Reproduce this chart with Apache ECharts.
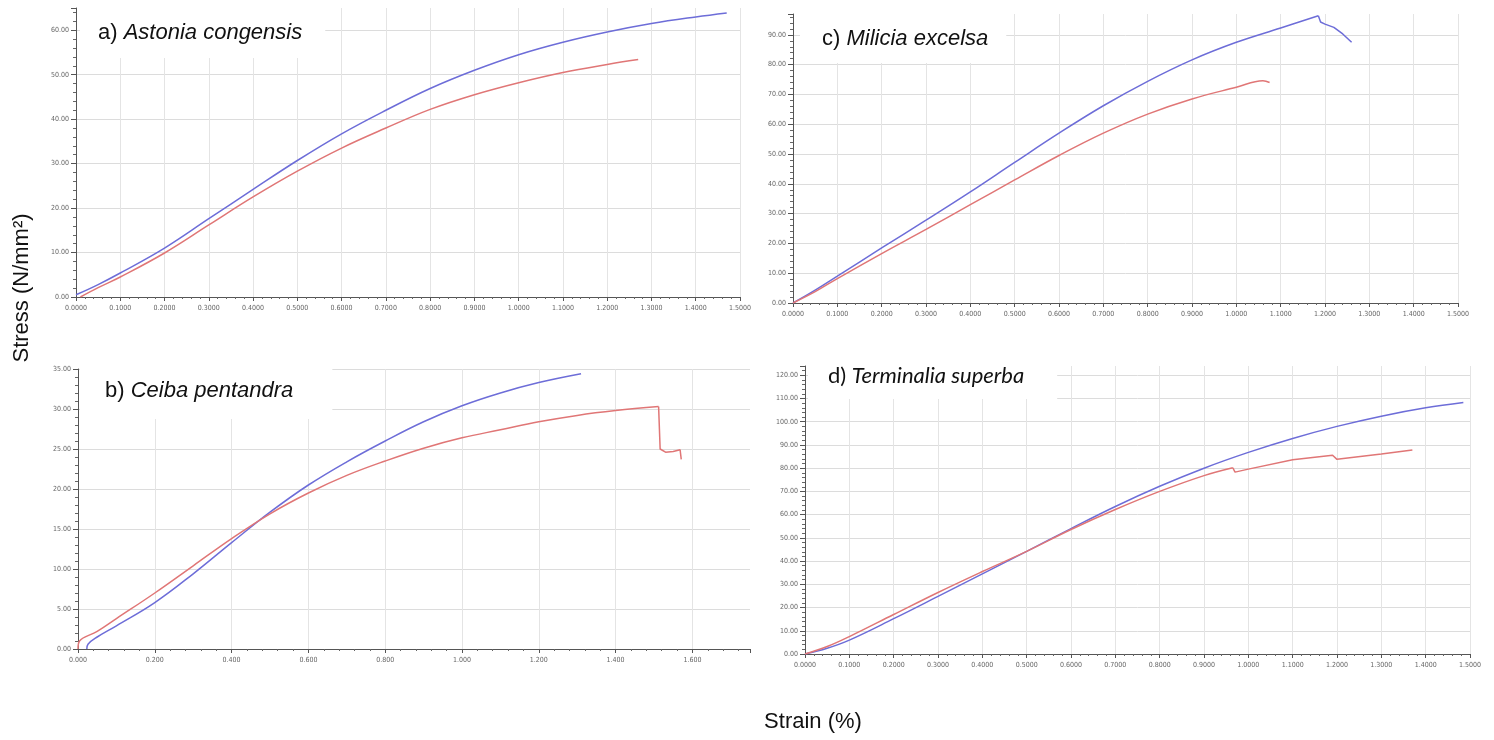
<!DOCTYPE html>
<html>
<head>
<meta charset="utf-8">
<title>Stress-strain curves</title>
<script src="https://cdn.jsdelivr.net/npm/echarts@6/dist/echarts.min.js"></script>
<style>
  html, body { margin: 0; padding: 0; background: #fff; }
  #main { width: 1494px; height: 740px; }
</style>
</head>
<body>
<div id="main"></div>
<script>
// [strain %, stress N/mm2]
// a) Astonia congensis
var aBlue = [[0,0.5],[0.05,2.8],[0.1,5.4],[0.2,11.0],[0.3,17.6],[0.4,24.2],[0.5,30.7],[0.6,36.7],[0.7,42.0],[0.8,46.9],[0.9,51.0],[1.0,54.5],[1.1,57.3],[1.2,59.6],[1.3,61.5],[1.4,63.0],[1.47,63.9]];
var aRed = [[0.01,0],[0.05,2.1],[0.1,4.5],[0.2,9.9],[0.3,16.2],[0.4,22.5],[0.5,28.3],[0.6,33.5],[0.7,38.0],[0.8,42.2],[0.9,45.5],[1.0,48.2],[1.1,50.5],[1.2,52.3],[1.27,53.4]];

// b) Ceiba pentandra
var bBlue = [[0.023,0],[0.026,0.6],[0.05,1.5],[0.1,2.9],[0.2,5.8],[0.3,9.4],[0.4,13.3],[0.5,17.1],[0.6,20.5],[0.7,23.4],[0.8,26.0],[0.9,28.4],[1.0,30.4],[1.1,32.0],[1.2,33.3],[1.31,34.4]];
var bRed = [[0,0],[0.004,1.0],[0.05,2.2],[0.1,3.8],[0.2,7.0],[0.3,10.4],[0.4,13.8],[0.5,16.9],[0.6,19.5],[0.7,21.7],[0.8,23.5],[0.9,25.1],[1.0,26.4],[1.1,27.4],[1.2,28.4],[1.3,29.2],[1.4,29.8],[1.512,30.3]];
var bRedTail = [[1.512,30.3],[1.516,25.0],[1.53,24.6],[1.55,24.7],[1.568,24.9],[1.571,23.7]];

// c) Milicia excelsa
var cBlue = [[0,0],[0.05,4.3],[0.1,9.0],[0.2,18.5],[0.3,27.8],[0.4,37.3],[0.5,47.2],[0.6,57.0],[0.7,66.2],[0.8,74.4],[0.9,81.6],[1.0,87.5],[1.1,92.3],[1.185,96.4]];
var cBlueTail = [[1.185,96.4],[1.19,94.3],[1.2,93.6],[1.22,92.5],[1.24,90.3],[1.26,87.5]];
var cRed = [[0,0],[0.05,3.8],[0.1,8.2],[0.2,16.6],[0.3,24.7],[0.4,33.0],[0.5,41.3],[0.6,49.5],[0.7,57.0],[0.8,63.4],[0.9,68.5],[1.0,72.4],[1.06,74.6],[1.075,74.0]];

// d) Terminalia superba
var dBlue = [[0,0],[0.05,2.5],[0.1,6.0],[0.2,15.2],[0.3,24.8],[0.4,34.5],[0.5,44.2],[0.6,54.0],[0.7,63.5],[0.8,72.2],[0.9,80.0],[1.0,86.8],[1.1,92.8],[1.2,98.0],[1.3,102.4],[1.4,106.0],[1.485,108.3]];
var dRed = [[0,0],[0.05,3.2],[0.1,7.5],[0.2,17.0],[0.3,26.5],[0.4,35.5],[0.5,44.2],[0.6,53.6],[0.7,62.2],[0.8,70.0],[0.9,76.8],[0.965,80.2]];
var dRedTail = [[0.965,80.2],[0.97,78.3],[1.0,79.6],[1.1,83.6],[1.19,85.6],[1.2,83.8],[1.3,86.1],[1.37,87.8]];

var titles = [
    ['a) ', 'Astonia congensis'],
    ['b) ', 'Ceiba pentandra'],
    ['c) ', 'Milicia excelsa'],
    ['d) ', 'Terminalia superba']
];

var blue = '#6d6dd8';
var red = '#e07676';
var labelFont = '"Liberation Sans Narrow", "DejaVu Sans Condensed", sans-serif';
var sans = '"Liberation Sans", Arial, sans-serif';

var chart = echarts.init(document.getElementById('main'));

function xAxis(idx, max, step, digits, showMax) {
    return {
        type: 'value', gridIndex: idx, min: 0, max: max, interval: step,
        axisLine: { lineStyle: { color: '#555', width: 1.2 } },
        axisTick: { length: 4, lineStyle: { color: '#555' } },
        minorTick: { show: true, splitNumber: 5, length: 2, lineStyle: { color: '#666' } },
        splitLine: { show: true, showMinLine: false, showMaxLine: showMax, lineStyle: { color: '#e4e4e4' } },
        axisLabel: {
            color: '#666', fontSize: 7, fontFamily: labelFont, margin: 8, showMaxLabel: showMax,
            formatter: function (v) { return v.toFixed(digits); }
        }
    };
}

function yAxis(idx, max, step, showMax) {
    return {
        type: 'value', gridIndex: idx, min: 0, max: max, interval: step,
        axisLine: { show: true, lineStyle: { color: '#555', width: 1 } },
        axisTick: { show: true, length: 5, lineStyle: { color: '#555' } },
        minorTick: { show: true, splitNumber: 5, length: 3, lineStyle: { color: '#666' } },
        splitLine: { show: true, showMinLine: false, showMaxLine: showMax, lineStyle: { color: '#dcdcdc' } },
        axisLabel: {
            color: '#666', fontSize: 7, fontFamily: labelFont, margin: 7, showMaxLabel: showMax,
            formatter: function (v) { return v.toFixed(2); }
        }
    };
}

function line(data, color, idx, smooth) {
    return {
        type: 'line', xAxisIndex: idx, yAxisIndex: idx, data: data,
        showSymbol: false, smooth: smooth ? 0.4 : false, silent: true,
        lineStyle: { color: color, width: 1.5 }, itemStyle: { color: color }
    };
}

function title(i, left, top, pad, font, size) {
    return {
        text: '{n|' + titles[i][0] + '}{i|' + titles[i][1] + '}',
        left: left, top: top, padding: pad, backgroundColor: '#fff',
        textStyle: {
            fontWeight: 'normal',
            rich: {
                n: { fontSize: size, fontFamily: font, fontWeight: 'normal', color: '#111' },
                i: { fontSize: size, fontFamily: font, fontWeight: 'normal', fontStyle: 'italic', color: '#111' }
            }
        }
    };
}

chart.setOption({
    animation: false,
    backgroundColor: '#fff',
    title: [
        title(0, 80, 4, [18, 23, 14, 18], sans, 22),
        title(1, 80, 360, [20, 39, 17, 25], sans, 22),
        title(2, 800, 12, [16, 18, 13, 22], sans, 22),
        title(3, 808, 360, [5, 33, 12, 20], 'Lato, "Open Sans", sans-serif', 22)
    ],
    grid: [
        { left: 76, top: 8, width: 664, height: 289 },
        { left: 78, top: 369, width: 672, height: 280 },
        { left: 793, top: 14, width: 665, height: 289 },
        { left: 805, top: 366, width: 665, height: 288 }
    ],
    xAxis: [
        xAxis(0, 1.5, 0.1, 4, true),
        xAxis(1, 1.75, 0.2, 3, false),
        xAxis(2, 1.5, 0.1, 4, true),
        xAxis(3, 1.5, 0.1, 4, true)
    ],
    yAxis: [
        yAxis(0, 65, 10, false),
        yAxis(1, 35, 5, true),
        yAxis(2, 97, 10, false),
        yAxis(3, 124, 10, false)
    ],
    series: [
        line(aBlue, blue, 0, true), line(aRed, red, 0, true),
        line(bBlue, blue, 1, true), line(bRed, red, 1, true), line(bRedTail, red, 1, false),
        line(cBlue, blue, 2, true), line(cBlueTail, blue, 2, false), line(cRed, red, 2, true),
        line(dBlue, blue, 3, true), line(dRed, red, 3, true), line(dRedTail, red, 3, false)
    ],
    graphic: [
        {
            type: 'text', x: 22, y: 288, rotation: Math.PI / 2,
            style: { text: 'Stress (N/mm²)', fontSize: 22, fontFamily: sans, fill: '#111', align: 'center', verticalAlign: 'middle' }
        },
        {
            type: 'text', x: 813, y: 722,
            style: { text: 'Strain (%)', fontSize: 22, fontFamily: sans, fill: '#111', align: 'center', verticalAlign: 'middle' }
        }
    ]
});
</script>
</body>
</html>
